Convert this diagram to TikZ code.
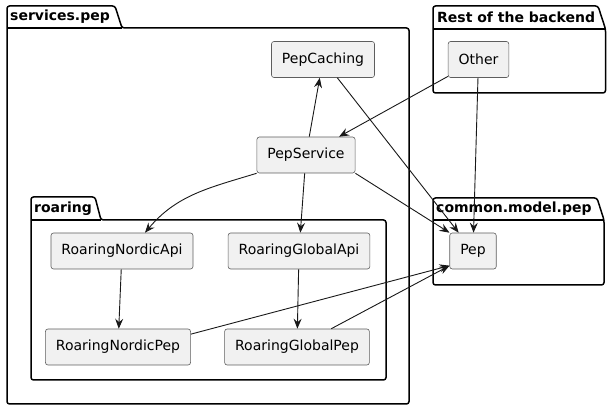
\documentclass[tikz,border=0pt]{standalone}
\usepackage{fontspec}
\setmainfont{DejaVu Sans}
\usetikzlibrary{arrows.meta,positioning,calc}
\definecolor{boxfill}{HTML}{F1F1F1}
\definecolor{boxline}{HTML}{181818}

\tikzset{
    comp/.style={draw=boxline!70, line width=0.6pt, fill=boxfill, rounded corners=2.5pt,
        minimum height=36pt, inner xsep=10.5pt, font=\fontsize{14}{16}\selectfont},
    pkg/.style={draw=black, line width=1.5pt, rounded corners=2.5pt},
    pkglabel/.style={anchor=west, inner sep=0pt, font=\fontsize{14}{16}\selectfont\bfseries},
    dep/.style={draw=boxline, line width=0.9pt, -{Stealth[length=10pt, width=8pt, inset=3.5pt]}}
}

\begin{document}
\begin{tikzpicture}[x=1pt, y=-1pt]
    \useasboundingbox (0, 0) rectangle (614, 411);

    % Package services.pep
    \draw[pkg] (7, 28) -- (7, 6) -- (115, 6) -- (122, 28) -- (409, 28) -- (409, 404) -- (7, 404) -- cycle;
    \draw[pkg] (7, 28) -- (122, 28);
    \node[pkglabel] (lblservices) at (10, 17) {services.pep};

    % Package Rest of the backend
    \draw[pkg] (433, 29) -- (433, 6) -- (598, 6) -- (605.5, 29) -- (605.5, 93) -- (433, 93) -- cycle;
    \draw[pkg] (433, 29) -- (605.5, 29);
    \node[pkglabel] (lblrest) at (437, 17) {Rest of the backend};

    % Package roaring
    \draw[pkg] (31, 220) -- (31, 197) -- (95, 197) -- (101, 220) -- (386, 220) -- (386, 380) -- (31, 380) -- cycle;
    \draw[pkg] (31, 220) -- (101, 220);
    \node[pkglabel] (lblroaring) at (34, 208.5) {roaring};

    % Package common.model.pep
    \draw[pkg] (433, 220) -- (433, 198) -- (597, 198) -- (604, 220) -- (604, 285) -- (433, 285) -- cycle;
    \draw[pkg] (433, 220) -- (604, 220);
    \node[pkglabel] (lblcommon) at (436, 209) {common.model.pep};

    % Components
    \node[comp] (pepcaching) at (323, 59.5) {PepCaching};
    \node[comp] (other) at (478.5, 59.5) {Other};
    \node[comp] (pepservice) at (306, 155) {PepService};
    \node[comp] (nordicapi) at (122, 251) {RoaringNordicApi};
    \node[comp] (globalapi) at (299, 251) {RoaringGlobalApi};
    \node[comp] (nordicpep) at (118, 347) {RoaringNordicPep};
    \node[comp] (globalpep) at (297, 347) {RoaringGlobalPep};
    \node[comp] (pep) at (473, 251) {Pep};

    % Dependencies
    \draw[dep] (pepservice) -- (pepcaching);
    \draw[dep] (other) -- (pepservice);
    \draw[dep] (pepcaching) -- (pep);
    \draw[dep] (other) -- (pep);
    \draw[dep] (pepservice.south east) -- (pep.north west);
    \draw[dep] (pepservice.south west) to[out=197, in=50] ($(nordicapi.north)+(23, 0)$);
    \draw[dep] (pepservice) -- (globalapi);
    \draw[dep] (nordicapi) -- (nordicpep);
    \draw[dep] (globalapi) -- (globalpep);
    \draw[dep] (nordicpep.10) -- (pep.212);
    \draw[dep] (globalpep) -- (pep.212);
\end{tikzpicture}
\end{document}
